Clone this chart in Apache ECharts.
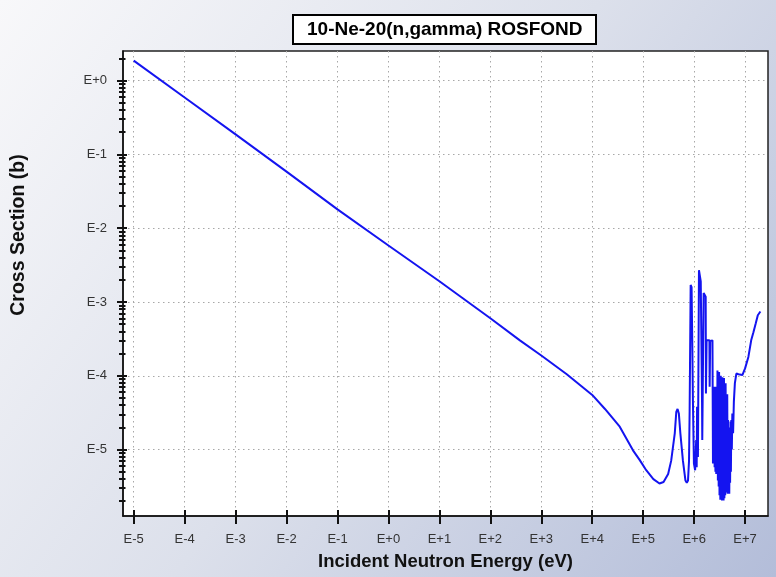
<!DOCTYPE html>
<html>
<head>
<meta charset="utf-8">
<script src="https://cdn.jsdelivr.net/npm/echarts@6/dist/echarts.min.js"></script>
<style>
  html, body { margin: 0; padding: 0; }
  #chart { width: 776px; height: 577px; }
</style>
</head>
<body>
<div id="chart"></div>
<script>
// Texts
const titleText = '10-Ne-20(n,gamma) ROSFOND';
const xAxisTitle = 'Incident Neutron Energy (eV)';
const yAxisTitle = 'Cross Section (b)';

// Decade exponents that carry a labelled tick
const xTickExps = [-5, -4, -3, -2, -1, 0, 1, 2, 3, 4, 5, 6, 7];
const yTickExps = [-5, -4, -3, -2, -1, 0];

// Capture cross section: log10 of incident energy (eV) ...
const energyExp = [
  -5.00, -4.00, -3.00, -2.00, -1.00, 0.00, 1.00, 2.00, 2.58, 3.00,
  3.50, 4.00, 4.25, 4.54, 4.80, 4.93, 5.06, 5.20, 5.32, 5.40,
  5.49, 5.55, 5.62, 5.65, 5.675, 5.70, 5.73, 5.78, 5.83, 5.856,
  5.88, 5.90, 5.912, 5.932, 5.95, 5.965, 5.976, 5.996, 6.02, 6.04,
  6.05, 6.058, 6.075, 6.095, 6.11, 6.13, 6.155, 6.16, 6.187, 6.227,
  6.232, 6.245, 6.30, 6.305, 6.315, 6.36,
  6.370, 6.378, 6.386, 6.394, 6.402, 6.410, 6.418, 6.426, 6.434, 6.442,
  6.450, 6.458, 6.466, 6.474, 6.482, 6.490, 6.498, 6.506, 6.514, 6.522,
  6.530, 6.538, 6.546, 6.554, 6.562, 6.570, 6.578, 6.586, 6.594, 6.602,
  6.610, 6.618, 6.626, 6.634, 6.642, 6.650, 6.658, 6.666, 6.674, 6.682,
  6.690, 6.698, 6.706, 6.714, 6.722, 6.730, 6.740, 6.750, 6.765, 6.780,
  6.800, 6.829, 6.870, 6.947, 7.000, 7.065, 7.120, 7.164, 7.210, 7.250,
  7.301
];
// ... and log10 of the cross section (b) at those energies
const sigmaExp = [
  0.27, -0.23, -0.73, -1.235, -1.745, -2.235, -2.72, -3.22, -3.52, -3.725,
  -3.98, -4.26, -4.45, -4.69, -5.01, -5.14, -5.28, -5.40, -5.46, -5.44,
  -5.33, -5.15, -4.78, -4.49, -4.45, -4.51, -4.78, -5.15, -5.42, -5.45,
  -5.42, -5.15, -4.47, -2.77, -2.80, -3.61, -4.33, -5.19, -5.28, -4.87,
  -5.24, -4.42, -5.10, -2.57, -2.55, -2.72, -4.33, -4.87, -2.88, -2.93,
  -4.24, -3.52, -3.52, -4.15, -3.53, -3.52,
  -5.19, -4.30, -5.05, -4.15, -5.24, -4.40, -5.30, -4.15, -5.33, -4.60,
  -5.20, -3.93, -5.42, -4.30, -5.50, -3.95, -5.62, -4.40, -5.68, -4.00,
  -5.66, -4.20, -5.69, -4.02, -5.65, -4.50, -5.69, -4.03, -5.66, -4.45,
  -5.62, -4.10, -5.58, -4.60, -5.55, -4.25, -5.60, -4.60, -5.55, -4.70,
  -5.60, -4.75, -5.45, -4.62, -5.30, -4.60, -5.00, -4.51, -4.78, -4.35,
  -4.10, -3.97, -3.98, -3.99, -3.90, -3.745, -3.52, -3.41, -3.29, -3.18,
  -3.13
];

const X_MIN = -5.21, X_MAX = 7.45;
const Y_MIN = -5.9, Y_MAX = 0.4;

// Log-scale minor ticks (2..9 within every decade) on the ordinate
const yMinorTicks = [];
for (let d = -6; d <= 0; d++) {
  for (let k = 2; k <= 9; k++) {
    const v = d + Math.log10(k);
    if (v > Y_MIN && v < Y_MAX) yMinorTicks.push(v);
  }
}

const FONT = '"Liberation Sans", Arial, Helvetica, sans-serif';
const INK = '#111';
const expLabel = v => 'E' + (v >= 0 ? '+' : '-') + Math.abs(Math.round(v));

const chart = echarts.init(document.getElementById('chart'), null, { renderer: 'canvas' });

// Extra axes that only add tick marks (inner halves and minor ticks)
function tickOnlyAxis(min, max, position, values, inside, length) {
  return {
    type: 'value', min: min, max: max, position: position,
    axisLine: { show: false, onZero: false },
    axisTick: { show: true, inside: inside, customValues: values, length: length, lineStyle: { color: INK, width: 2 } },
    axisLabel: { show: false },
    splitLine: { show: false }
  };
}

chart.setOption({
  animation: false,
  backgroundColor: {
    type: 'linear', x: 0, y: 0, x2: 1, y2: 1,
    colorStops: [
      { offset: 0, color: '#f8f8fa' },
      { offset: 0.5, color: '#dce0eb' },
      { offset: 1, color: '#b3bdd9' }
    ]
  },
  title: {
    text: titleText,
    left: 293, top: 15,
    padding: [4, 14],
    backgroundColor: '#fff',
    borderColor: '#000',
    borderWidth: 2,
    textStyle: { fontFamily: FONT, fontWeight: 'bold', fontSize: 19, lineHeight: 21, color: '#000' }
  },
  grid: {
    left: 123, top: 51, right: 8, bottom: 61,
    show: true, backgroundColor: '#fff', borderColor: '#222', borderWidth: 1.5,
    containLabel: false
  },
  graphic: [
    {
      type: 'text', x: 19, y: 235, rotation: Math.PI / 2,
      style: {
        text: yAxisTitle, fill: '#111', align: 'center', verticalAlign: 'middle',
        font: 'bold 19.5px ' + FONT
      }
    }
  ],
  xAxis: [
    {
      type: 'value', min: X_MIN, max: X_MAX, position: 'bottom',
      axisLine: { show: true, onZero: false, lineStyle: { color: INK, width: 1.5 } },
      axisTick: { show: true, customValues: xTickExps, length: 8, lineStyle: { color: INK, width: 2 } },
      axisLabel: { customValues: xTickExps, formatter: expLabel, margin: 17, fontSize: 13, color: '#333', fontFamily: FONT },
      splitLine: { show: true, lineStyle: { color: '#a8a8a8', type: [1.5, 3.5], width: 1 } },
      name: xAxisTitle, nameLocation: 'middle', nameGap: 36,
      nameTextStyle: { fontFamily: FONT, fontWeight: 'bold', fontSize: 18.5, color: '#111' }
    },
    tickOnlyAxis(X_MIN, X_MAX, 'bottom', xTickExps, true, 6)
  ],
  yAxis: [
    {
      type: 'value', min: Y_MIN, max: Y_MAX, position: 'left',
      axisLine: { show: true, onZero: false, lineStyle: { color: INK, width: 1.5 } },
      axisTick: { show: true, customValues: yTickExps, length: 6, lineStyle: { color: INK, width: 2 } },
      axisLabel: { customValues: yTickExps, formatter: expLabel, margin: 16, fontSize: 13, color: '#333', fontFamily: FONT },
      splitLine: { show: true, lineStyle: { color: '#a8a8a8', type: [1.5, 3.5], width: 1 } }
    },
    tickOnlyAxis(Y_MIN, Y_MAX, 'left', yTickExps, true, 4),
    tickOnlyAxis(Y_MIN, Y_MAX, 'left', yMinorTicks, false, 4),
    tickOnlyAxis(Y_MIN, Y_MAX, 'left', yMinorTicks, true, 2.5)
  ],
  series: [
    {
      type: 'line',
      xAxisIndex: 0, yAxisIndex: 0,
      data: energyExp.map((e, i) => [e, sigmaExp[i]]),
      showSymbol: false,
      symbol: 'none',
      clip: true,
      lineStyle: { color: '#1414f0', width: 2 }
    }
  ]
});
</script>
</body>
</html>
